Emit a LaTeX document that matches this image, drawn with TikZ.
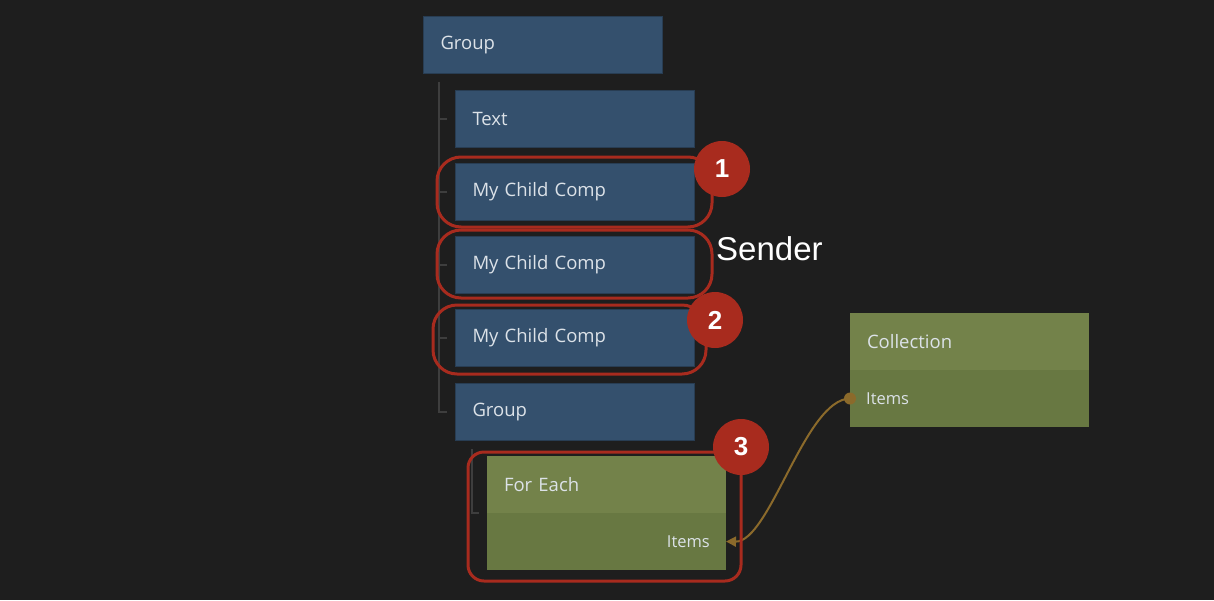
\documentclass[tikz,border=0pt]{standalone}
\usepackage{fontspec}
\setmainfont{Open Sans}
\newfontfamily\calloutfont{Liberation Sans}
\usetikzlibrary{positioning}
\usetikzlibrary{arrows.meta}
\usetikzlibrary{calc}

\definecolor{bgdark}{HTML}{1E1E1E}
\definecolor{nodeblue}{HTML}{34506D}
\definecolor{nodeblueline}{HTML}{283D53}
\definecolor{headgreen}{HTML}{73824A}
\definecolor{bodygreen}{HTML}{687842}
\definecolor{ringred}{HTML}{A82B1E}
\definecolor{wirebrown}{HTML}{8B6A2B}
\definecolor{treegrey}{HTML}{3E3E3E}
\definecolor{nodetext}{HTML}{DCE2E8}

\tikzset{
  uibox/.style={draw=nodeblueline, line width=1pt, fill=nodeblue, anchor=north west,
    minimum width=239, minimum height=57, text width=205, inner xsep=17, align=left,
    text=nodetext, font=\fontsize{18.5}{22}\selectfont},
  headbox/.style={uibox, draw=none, outer sep=0pt, fill=headgreen},
  bodybox/.style={headbox, fill=bodygreen},
  portlabel/.style={text=nodetext, inner sep=0pt, font=\fontsize{16.5}{20}\selectfont},
  ring/.style={draw=ringred, line width=3pt, rounded corners=24},
  badge/.style={circle, fill=ringred, minimum size=56, inner sep=0pt, text=white,
    font=\calloutfont\bfseries\fontsize{26}{30}\selectfont},
  tree/.style={draw=treegrey, line width=1.5pt},
  wire/.style={draw=wirebrown, line width=2pt, -{Triangle[length=10pt,width=10pt]}}
}

\begin{document}
\begin{tikzpicture}[x=1pt,y=-1pt]
  \fill[bgdark] (0,0) rectangle (1214,600);
  \useasboundingbox (0,0) rectangle (1214,600);

  % hierarchy
  \node[uibox] (grp1) at (423,16) {Group};
  \node[uibox] (txt) at (455,90) {Text};
  \foreach \i/\y in {1/163, 2/236, 3/309} {
    \node[uibox] (comp\i) at (455,\y) {My Child Comp};
  }
  \node[uibox] (grp2) at (455,383) {Group};
  \node[headbox] (feHead) at (487,456) {For Each};
  \node[bodybox, below=0pt of feHead] (feBody) {};
  \node[portlabel, anchor=east] (feItems) at ($(feBody.east)+(-16,0)$) {Items};

  \node[headbox] (colHead) at (850,313) {Collection};
  \node[bodybox, below=0pt of colHead] (colBody) {};
  \node[portlabel, anchor=west] (colItems) at ($(colBody.west)+(16,0)$) {Items};

  % tree lines
  \draw[tree] (439,82) |- ($(grp2.west)+(-8,0)$);
  \foreach \n in {txt, comp1, comp2, comp3} {
    \draw[tree] (\n.west) ++(-16,0) -- ++(8,0);
  }
  \draw[tree] (472,449) |- ($(feHead.south west)+(-8,0)$);

  % connection
  \coordinate (colPort) at (colBody.west);
  \coordinate (fePort) at (feBody.east);
  \draw[wire] (colPort) .. controls (805,399) and (770,542) .. (fePort);
  \fill[wirebrown] (colPort) circle (6pt);

  % callouts
  \draw[ring] (437,157) rectangle (712,227);
  \draw[ring] (437,230) rectangle (712,298);
  \draw[ring] (433,305) rectangle (706,374);
  \draw[ring, rounded corners=16] (468,452) rectangle (741,581);
  \node[badge] (badge1) at (722,169) {1};
  \node[badge] (badge2) at (715,320) {2};
  \node[badge] (badge3) at (741,447) {3};
  \node[anchor=west, text=white, inner sep=0pt, font=\calloutfont\fontsize{33}{38}\selectfont]
    (sender) at (716,249) {Sender};
\end{tikzpicture}
\end{document}
